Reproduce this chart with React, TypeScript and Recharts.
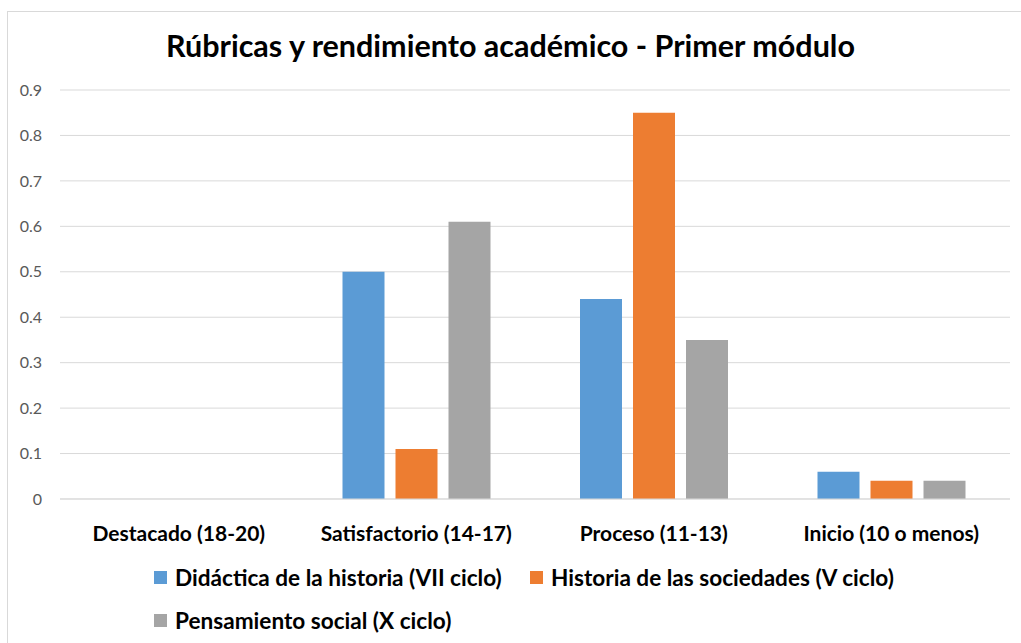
import React from "react";
import { BarChart, Bar, XAxis, YAxis, CartesianGrid, Legend } from "recharts";

const categories = ["Destacado (18-20)", "Satisfactorio (14-17)", "Proceso (11-13)", "Inicio (10 o menos)"];
const didactica = [0, 0.5, 0.44, 0.06];
const historia = [0, 0.11, 0.85, 0.04];
const pensamiento = [0, 0.61, 0.35, 0.04];
const yTicks = [0, 0.1, 0.2, 0.3, 0.4, 0.5, 0.6, 0.7, 0.8, 0.9];

const seriesNames = [
  "Didáctica de la historia (VII ciclo)",
  "Historia de las sociedades (V ciclo)",
  "Pensamiento social (X ciclo)",
];
const seriesColors = ["#5B9BD5", "#ED7D31", "#A5A5A5"];

const data = categories.map((c, i) => ({
  name: c,
  s0: didactica[i],
  s1: historia[i],
  s2: pensamiento[i],
}));

const FONT = "Lato, 'Open Sans', sans-serif";

const renderLegend = () => (
  <div
    style={{
      height: 87,
      width: 1010,
      boxSizing: "border-box",
      paddingLeft: 154,
      display: "flex",
      flexWrap: "wrap",
      alignContent: "flex-start",
      fontFamily: FONT,
      fontWeight: 700,
      fontSize: 22.6,
      color: "#000",
      whiteSpace: "nowrap",
    }}
  >
    {seriesNames.map((n, i) => (
      <div
        key={n}
        style={{
          display: "flex",
          alignItems: "center",
          height: 43,
          width: i === 0 ? 376 : i === 1 ? 470 : undefined,
        }}
      >
        <span
          style={{
            display: "inline-block",
            width: 13,
            height: 13,
            background: seriesColors[i],
            marginRight: 8,
            flex: "none",
          }}
        />
        <span>{n}</span>
      </div>
    ))}
  </div>
);

export default function App() {
  return (
    <div
      style={{
        position: "fixed",
        left: 0,
        top: 0,
        width: 1021,
        height: 643,
        overflow: "hidden",
        background: "#fff",
      }}
    >
      <div
        style={{
          position: "absolute",
          left: 7,
          top: 11,
          width: 1030,
          height: 660,
          border: "1px solid #D9D9D9",
        }}
      />
      <div
        style={{
          position: "absolute",
          left: 0,
          top: 25,
          width: 1021,
          textAlign: "center",
          fontFamily: FONT,
          fontWeight: 700,
          fontSize: 30.5,
          color: "#000",
          lineHeight: "40px",
        }}
      >
        Rúbricas y rendimiento académico - Primer módulo
      </div>
      <div style={{ position: "absolute", left: 0, top: 0 }}>
        <BarChart
          width={1021}
          height={643}
          data={data}
          margin={{ top: 90, right: 11, left: 0, bottom: 0 }}
          barSize={42}
          barGap={11}
        >
          <CartesianGrid vertical={false} stroke="#D9D9D9" strokeWidth={1} />
          <XAxis
            dataKey="name"
            axisLine={{ stroke: "#D9D9D9" }}
            tickLine={false}
            height={57}
            interval={0}
            tickMargin={21}
            tick={{ fill: "#000", fontFamily: FONT, fontWeight: 700, fontSize: 21 }}
          />
          <YAxis
            domain={[0, 0.9]}
            ticks={yTicks}
            axisLine={false}
            tickLine={false}
            width={60}
            tickMargin={12}
            tick={{ fill: "#595959", fontFamily: FONT, fontSize: 16 }}
          />
          <Legend verticalAlign="bottom" align="left" content={renderLegend} wrapperStyle={{ left: 0 }} />
          <Bar dataKey="s0" name={seriesNames[0]} fill={seriesColors[0]} isAnimationActive={false} />
          <Bar dataKey="s1" name={seriesNames[1]} fill={seriesColors[1]} isAnimationActive={false} />
          <Bar dataKey="s2" name={seriesNames[2]} fill={seriesColors[2]} isAnimationActive={false} />
        </BarChart>
      </div>
    </div>
  );
}
